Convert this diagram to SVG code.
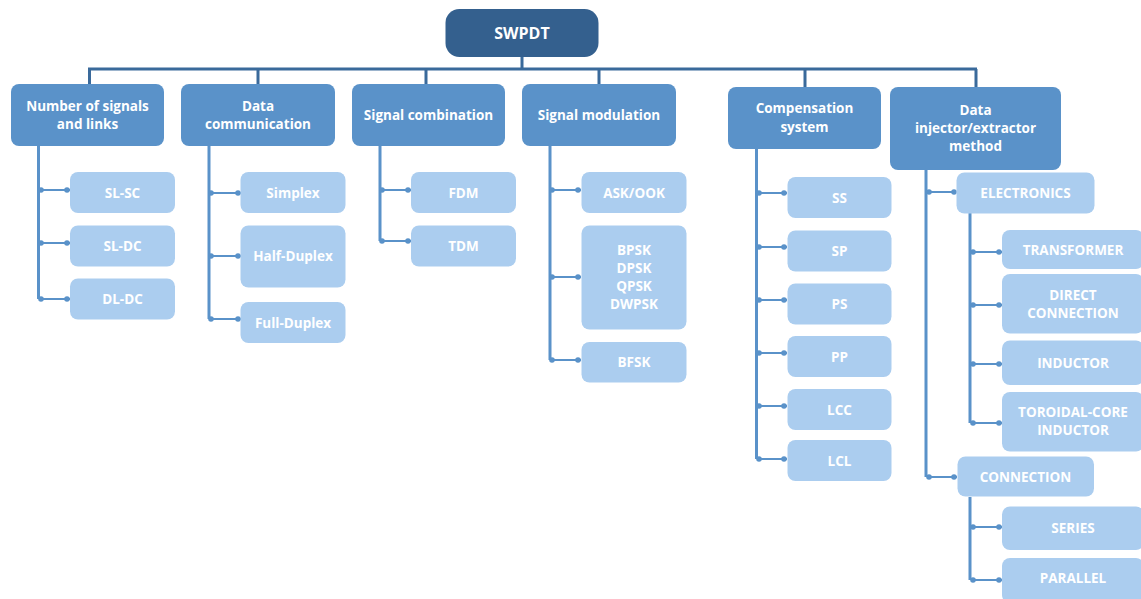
<svg xmlns="http://www.w3.org/2000/svg" width="1141" height="599" viewBox="0 0 1141 599">
<style>
.root{fill:#34608E}
.l1{fill:#5A92C9}
.l2{fill:#ABCDEF}
.t{font-family:"Open Sans","Liberation Sans",sans-serif;font-weight:700;fill:#FFFFFF;text-anchor:middle}
.tr{font-size:16px}
.t1{font-size:13.5px}
.t2{font-size:13.5px}
.bus{stroke:#3A6A9B;stroke-width:3;fill:none}
.col{stroke:#5A92C9;stroke-width:3;fill:none}
.br{stroke:#5A92C9;stroke-width:2;fill:none}
.dot{fill:#5A92C9}
</style>
<g id="connectors">
<path class="bus" d="M522 57V69M88 69H977M89.5 69V84M258 69V84M426 69V84M599 69V84M805 69V87M976 69V87"/>
<path class="col" d="M38.5 146V299M209 146V319M380 146V241M550 146V360M756.5 149V459M926 170V477M970 213V423M970 497V580"/>
<path class="br" d="M40 190H70M40 243H70M40 299H70M210 193H241M210 256H241M210 319H241M381 190H411M381 241H411M551 190H581M551 277H581M551 360H581M758 193H787M758 247H787M758 300H787M758 353H787M758 406H787M758 459H787M928 192H956M928 477H957M972 252H1002M972 305H1002M972 364H1002M972 423H1002M972 527H1002M972 580H1002"/>
<g class="dot">
<circle cx="41" cy="190" r="2.8"/><circle cx="67" cy="190" r="2.8"/>
<circle cx="41" cy="243" r="2.8"/><circle cx="67" cy="243" r="2.8"/>
<circle cx="41" cy="299" r="2.8"/><circle cx="67" cy="299" r="2.8"/>
<circle cx="211" cy="193" r="2.8"/><circle cx="238" cy="193" r="2.8"/>
<circle cx="211" cy="256" r="2.8"/><circle cx="238" cy="256" r="2.8"/>
<circle cx="211" cy="319" r="2.8"/><circle cx="238" cy="319" r="2.8"/>
<circle cx="382" cy="190" r="2.8"/><circle cx="408" cy="190" r="2.8"/>
<circle cx="382" cy="241" r="2.8"/><circle cx="408" cy="241" r="2.8"/>
<circle cx="552" cy="190" r="2.8"/><circle cx="578" cy="190" r="2.8"/>
<circle cx="552" cy="277" r="2.8"/><circle cx="578" cy="277" r="2.8"/>
<circle cx="552" cy="360" r="2.8"/><circle cx="578" cy="360" r="2.8"/>
<circle cx="759" cy="193" r="2.8"/><circle cx="784" cy="193" r="2.8"/>
<circle cx="759" cy="247" r="2.8"/><circle cx="784" cy="247" r="2.8"/>
<circle cx="759" cy="300" r="2.8"/><circle cx="784" cy="300" r="2.8"/>
<circle cx="759" cy="353" r="2.8"/><circle cx="784" cy="353" r="2.8"/>
<circle cx="759" cy="406" r="2.8"/><circle cx="784" cy="406" r="2.8"/>
<circle cx="759" cy="459" r="2.8"/><circle cx="784" cy="459" r="2.8"/>
<circle cx="929" cy="192" r="2.8"/><circle cx="954" cy="192" r="2.8"/>
<circle cx="929" cy="477" r="2.8"/><circle cx="954" cy="477" r="2.8"/>
<circle cx="973" cy="252" r="2.8"/><circle cx="999" cy="252" r="2.8"/>
<circle cx="973" cy="305" r="2.8"/><circle cx="999" cy="305" r="2.8"/>
<circle cx="973" cy="364" r="2.8"/><circle cx="999" cy="364" r="2.8"/>
<circle cx="973" cy="423" r="2.8"/><circle cx="999" cy="423" r="2.8"/>
<circle cx="973" cy="527" r="2.8"/><circle cx="999" cy="527" r="2.8"/>
<circle cx="973" cy="580" r="2.8"/><circle cx="999" cy="580" r="2.8"/>
</g>
</g>
<g id="swpdt"><rect class="root" x="445.5" y="9" width="153" height="48" rx="14"/><text class="t tr" x="522" y="38.5">SWPDT</text></g>
<g id="number-signals"><rect class="l1" x="11" y="84" width="153" height="62" rx="8"/><text class="t t1" x="87.5" y="111">Number of signals</text><text class="t t1" x="87.5" y="129">and links</text></g>
<g id="data-communication"><rect class="l1" x="181" y="84" width="154" height="62" rx="8"/><text class="t t1" x="258" y="111">Data</text><text class="t t1" x="258" y="129">communication</text></g>
<g id="signal-combination"><rect class="l1" x="352" y="84" width="153" height="62" rx="8"/><text class="t t1" x="428.5" y="120">Signal combination</text></g>
<g id="signal-modulation"><rect class="l1" x="522" y="84" width="154" height="62" rx="8"/><text class="t t1" x="599" y="120">Signal modulation</text></g>
<g id="compensation-system"><rect class="l1" x="728" y="87" width="153" height="62" rx="8"/><text class="t t1" x="804.5" y="113">Compensation</text><text class="t t1" x="804.5" y="132">system</text></g>
<g id="data-injector"><rect class="l1" x="890" y="87" width="171" height="83" rx="8"/><text class="t t1" x="975.5" y="115">Data</text><text class="t t1" x="975.5" y="133">injector/extractor</text><text class="t t1" x="975.5" y="151">method</text></g>
<g id="sl-sc"><rect class="l2" x="70" y="172" width="105" height="41" rx="8"/><text class="t t2" x="122.5" y="197.5">SL-SC</text></g>
<g id="sl-dc"><rect class="l2" x="70" y="225.5" width="105" height="41" rx="8"/><text class="t t2" x="122.5" y="251">SL-DC</text></g>
<g id="dl-dc"><rect class="l2" x="70" y="278.5" width="105" height="41" rx="8"/><text class="t t2" x="122.5" y="304">DL-DC</text></g>
<g id="simplex"><rect class="l2" x="240.5" y="172" width="105" height="41" rx="8"/><text class="t t2" x="293" y="197.5">Simplex</text></g>
<g id="half-duplex"><rect class="l2" x="240.5" y="225.5" width="105" height="62" rx="8"/><text class="t t2" x="293" y="261">Half-Duplex</text></g>
<g id="full-duplex"><rect class="l2" x="240.5" y="302" width="105" height="41" rx="8"/><text class="t t2" x="293" y="327.5">Full-Duplex</text></g>
<g id="fdm"><rect class="l2" x="411" y="172" width="105" height="41" rx="8"/><text class="t t2" x="463.5" y="197.5">FDM</text></g>
<g id="tdm"><rect class="l2" x="411" y="225.5" width="105" height="41" rx="8"/><text class="t t2" x="463.5" y="251">TDM</text></g>
<g id="ask-ook"><rect class="l2" x="581.5" y="172" width="105" height="41" rx="8"/><text class="t t2" x="634" y="197.5">ASK/OOK</text></g>
<g id="psk"><rect class="l2" x="581.5" y="225.5" width="105" height="104" rx="8"/><text class="t t2" x="634" y="255">BPSK</text><text class="t t2" x="634" y="273">DPSK</text><text class="t t2" x="634" y="291">QPSK</text><text class="t t2" x="634" y="309">DWPSK</text></g>
<g id="bfsk"><rect class="l2" x="581.5" y="342" width="105" height="40.5" rx="8"/><text class="t t2" x="634" y="367">BFSK</text></g>
<g id="ss"><rect class="l2" x="787.5" y="177" width="104" height="41" rx="8"/><text class="t t2" x="839.5" y="202.5">SS</text></g>
<g id="sp"><rect class="l2" x="787.5" y="230.5" width="104" height="41" rx="8"/><text class="t t2" x="839.5" y="256">SP</text></g>
<g id="ps"><rect class="l2" x="787.5" y="283.5" width="104" height="41" rx="8"/><text class="t t2" x="839.5" y="309">PS</text></g>
<g id="pp"><rect class="l2" x="787.5" y="336" width="104" height="41" rx="8"/><text class="t t2" x="839.5" y="361.5">PP</text></g>
<g id="lcc"><rect class="l2" x="787.5" y="389" width="104" height="41" rx="8"/><text class="t t2" x="839.5" y="414.5">LCC</text></g>
<g id="lcl"><rect class="l2" x="787.5" y="440" width="104" height="41" rx="8"/><text class="t t2" x="839.5" y="465.5">LCL</text></g>
<g id="electronics"><rect class="l2" x="956.5" y="172.5" width="138" height="41" rx="8"/><text class="t t2" x="1025.5" y="198">ELECTRONICS</text></g>
<g id="transformer"><rect class="l2" x="1002" y="230" width="142" height="39" rx="8"/><text class="t t2" x="1073" y="255">TRANSFORMER</text></g>
<g id="direct-connection"><rect class="l2" x="1002" y="274" width="142" height="59.5" rx="8"/><text class="t t2" x="1073" y="300">DIRECT</text><text class="t t2" x="1073" y="318">CONNECTION</text></g>
<g id="inductor"><rect class="l2" x="1002" y="340.5" width="142" height="44.5" rx="8"/><text class="t t2" x="1073" y="367.5">INDUCTOR</text></g>
<g id="toroidal"><rect class="l2" x="1002" y="392" width="142" height="59.5" rx="8"/><text class="t t2" x="1073" y="417">TOROIDAL-CORE</text><text class="t t2" x="1073" y="435">INDUCTOR</text></g>
<g id="connection"><rect class="l2" x="957.5" y="456.5" width="136.5" height="40" rx="8"/><text class="t t2" x="1025.5" y="481.5">CONNECTION</text></g>
<g id="series"><rect class="l2" x="1002" y="506.5" width="142" height="43.5" rx="8"/><text class="t t2" x="1073" y="533">SERIES</text></g>
<g id="parallel"><rect class="l2" x="1002" y="558" width="142" height="45" rx="8"/><text class="t t2" x="1073" y="583">PARALLEL</text></g>
</svg>
